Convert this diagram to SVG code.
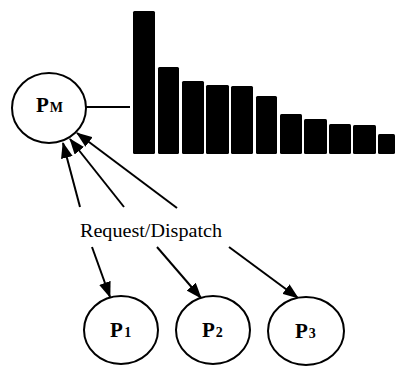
<svg xmlns="http://www.w3.org/2000/svg" width="395" height="368" viewBox="0 0 395 368">
  <style>
    .node { fill: #fff; stroke: #000; stroke-width: 2; }
    .lbl { font-family: "Liberation Serif", "Times New Roman", serif; font-weight: bold; font-size: 21px; fill: #000; }
    .sub { font-size: 14px; }
    .edge { stroke: #000; stroke-width: 2; fill: none; marker-end: url(#head); }
    .bar { fill: #000; }
    .cap { font-family: "Liberation Serif", "Times New Roman", serif; font-size: 19px; fill: #000; }
  </style>
  <defs>
    <marker id="head" markerUnits="userSpaceOnUse" markerWidth="16" markerHeight="12" refX="15" refY="6" orient="auto">
      <path d="M0,0 L16,6 L0,12 z" fill="#000"/>
    </marker>
  </defs>

  <!-- load histogram -->
  <g id="histogram">
    <line x1="86" y1="107" x2="130" y2="107" stroke="#000" stroke-width="2"/>
    <rect class="bar" x="133" y="11" width="22" height="143" rx="1.5"/>
    <rect class="bar" x="158" y="67" width="21" height="87" rx="1.5"/>
    <rect class="bar" x="182" y="81" width="22" height="73" rx="1.5"/>
    <rect class="bar" x="206" y="85" width="23" height="69" rx="1.5"/>
    <rect class="bar" x="231" y="86" width="22" height="68" rx="1.5"/>
    <rect class="bar" x="256" y="96" width="21" height="58" rx="1.5"/>
    <rect class="bar" x="280" y="114" width="22" height="40" rx="1.5"/>
    <rect class="bar" x="304" y="119" width="23" height="35" rx="1.5"/>
    <rect class="bar" x="329" y="124" width="22" height="30" rx="1.5"/>
    <rect class="bar" x="353" y="125" width="23" height="29" rx="1.5"/>
    <rect class="bar" x="378" y="134" width="17" height="20" rx="1.5"/>
  </g>

  <!-- connectors -->
  <g id="connectors">
    <line class="edge" x1="80" y1="207" x2="63" y2="143"/>
    <line class="edge" x1="124" y1="207" x2="70" y2="139"/>
    <line class="edge" x1="177" y1="208" x2="77" y2="133"/>
    <line class="edge" x1="92" y1="247" x2="110" y2="297"/>
    <line class="edge" x1="157" y1="247" x2="201" y2="298"/>
    <line class="edge" x1="229" y1="247" x2="298" y2="298"/>
  </g>

  <text class="cap" x="80" y="237" textLength="142" lengthAdjust="spacingAndGlyphs">Request/Dispatch</text>

  <g id="PM">
    <ellipse class="node" cx="49" cy="108" rx="37" ry="35"/>
    <text class="lbl" x="36" y="112">P<tspan class="sub" dx="1">M</tspan></text>
  </g>
  <g id="P1">
    <ellipse class="node" cx="121" cy="330" rx="37" ry="34"/>
    <text class="lbl" x="110" y="337">P<tspan class="sub" dx="1.5">1</tspan></text>
  </g>
  <g id="P2">
    <ellipse class="node" cx="213" cy="330" rx="37" ry="34"/>
    <text class="lbl" x="202" y="337">P<tspan class="sub" dx="1">2</tspan></text>
  </g>
  <g id="P3">
    <ellipse class="node" cx="306" cy="331" rx="38" ry="34"/>
    <text class="lbl" x="295" y="338">P<tspan class="sub" dx="1">3</tspan></text>
  </g>
</svg>
